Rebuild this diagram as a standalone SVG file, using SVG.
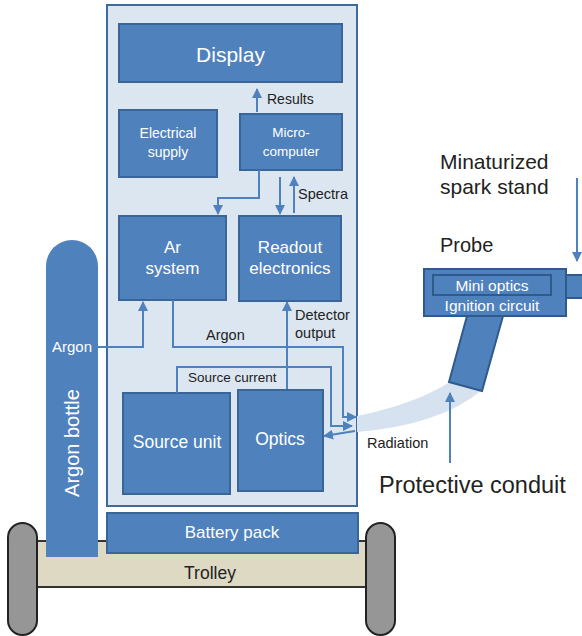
<svg xmlns="http://www.w3.org/2000/svg" width="582" height="636" viewBox="0 0 582 636">
  <style>
    .node { fill: #4f81bd; stroke: #3a6598; stroke-width: 2; }
    .cabinet { fill: #dce6f1; stroke: #3e6a9c; stroke-width: 2; }
    .wt { fill: #ffffff; font-family: "Liberation Sans", Arial, sans-serif; text-anchor: middle; }
    .dk { fill: #222222; font-family: "Liberation Sans", Arial, sans-serif; }
    .sm { font-size: 14.5px; }
    .wire { fill: none; stroke: #4f81bd; stroke-width: 2; }
    .wheel { fill: #969696; stroke: #222222; stroke-width: 2; }
  </style>
  <defs>
    <marker id="ah" viewBox="0 0 10 10" refX="9" refY="5" markerWidth="5" markerHeight="5" orient="auto-start-reverse" markerUnits="strokeWidth">
      <path d="M0,0 L10,5 L0,10 Z" fill="#4f81bd"/>
    </marker>
  </defs>

  <!-- trolley and wheels -->
  <g id="trolley">
    <rect x="37" y="541" width="331" height="46" fill="#ddd9c3" stroke="#333333" stroke-width="2"/>
    <text class="dk" x="210" y="579" font-size="17.5" text-anchor="middle">Trolley</text>
  </g>
  <g id="wheels">
    <rect class="wheel" x="8" y="523" width="29" height="112" rx="14.5"/>
    <rect class="wheel" x="366" y="523" width="29" height="112" rx="14.5"/>
  </g>

  <!-- argon bottle -->
  <g id="argon-bottle">
    <path d="M46,557 L46,266 A26,26 0 0 1 98,266 L98,557 Z" fill="#4f81bd"/>
    <text class="wt" x="72" y="352" font-size="15">Argon</text>
    <text class="wt" x="72" y="443" font-size="20" transform="rotate(-90 72 443)" dy="7">Argon bottle</text>
  </g>

  <!-- cabinet -->
  <g id="cabinet">
    <rect class="cabinet" x="107" y="5" width="250" height="501"/>
  </g>
  <g id="battery-pack">
    <rect class="node" x="107" y="513" width="251" height="40"/>
    <text class="wt" x="232" y="538" font-size="17">Battery pack</text>
  </g>

  <!-- protective conduit -->
  <g id="conduit">
    <path d="M357,416 Q415,404 450,382 L482,390 Q440,425 357,432 Z" fill="#d6e2ef"/>
  </g>

  <!-- units inside the cabinet -->
  <g id="display">
    <rect class="node" x="119" y="24" width="223" height="58"/>
    <text class="wt" x="230.5" y="62" font-size="21">Display</text>
  </g>
  <g id="electrical-supply">
    <rect class="node" x="119" y="110" width="98" height="67"/>
    <text class="wt" x="168" y="138" font-size="14">Electrical</text>
    <text class="wt" x="168" y="157" font-size="14">supply</text>
  </g>
  <g id="microcomputer">
    <rect class="node" x="240" y="114" width="102" height="56"/>
    <text class="wt" x="291" y="137" font-size="13.5">Micro-</text>
    <text class="wt" x="291" y="156" font-size="13.5">computer</text>
  </g>
  <g id="ar-system">
    <rect class="node" x="119" y="216" width="107" height="84"/>
    <text class="wt" x="172.5" y="253" font-size="17">Ar</text>
    <text class="wt" x="172.5" y="274" font-size="17">system</text>
  </g>
  <g id="readout-electronics">
    <rect class="node" x="239" y="216" width="102" height="85"/>
    <text class="wt" x="290" y="253" font-size="17">Readout</text>
    <text class="wt" x="290" y="274" font-size="17">electronics</text>
  </g>
  <g id="source-unit">
    <rect class="node" x="123" y="393" width="107" height="101"/>
    <text class="wt" x="177" y="448" font-size="17.5">Source unit</text>
  </g>
  <g id="optics">
    <rect class="node" x="238" y="390" width="85" height="101"/>
    <text class="wt" x="280" y="445" font-size="17.5">Optics</text>
  </g>

  <!-- probe -->
  <g id="probe">
    <polygon points="467,316 503,316 482,391 449,382" fill="#4f81bd" stroke="#2f5a8c" stroke-width="2"/>
    <rect x="566" y="275" width="17" height="23" fill="#4f81bd" stroke="#2f5a8c" stroke-width="2"/>
    <rect x="424" y="269" width="142" height="47" fill="#4f81bd" stroke="#2f5a8c" stroke-width="2"/>
    <rect x="433" y="275" width="118" height="20" fill="none" stroke="#2f5a8c" stroke-width="2"/>
    <text class="wt" x="492" y="290.5" font-size="15.5">Mini optics</text>
    <text class="wt" x="492" y="310.5" font-size="15.5">Ignition circuit</text>
  </g>

  <!-- connectors -->
  <g id="connectors">
    <path class="wire" d="M257,112 L257,89" marker-end="url(#ah)"/>
    <path class="wire" d="M259,170 L259,198 L218,198 L218,214" marker-end="url(#ah)"/>
    <path class="wire" d="M280,177 L280,214" marker-end="url(#ah)"/>
    <path class="wire" d="M294,213 L294,177" marker-end="url(#ah)"/>
    <path class="wire" d="M97,347 L143,347 L143,302" marker-end="url(#ah)"/>
    <path class="wire" d="M287,389 L287,302" marker-end="url(#ah)"/>
    <path class="wire" d="M173,300 L173,347 L343,347 L343,417 L356,417" marker-end="url(#ah)"/>
    <path class="wire" d="M177,393 L177,367 L331,367 L331,426 L352,426" marker-end="url(#ah)"/>
    <path class="wire" d="M355,431 L324,436" marker-end="url(#ah)"/>
    <path class="wire" d="M577,178 L577,261" marker-end="url(#ah)"/>
    <path class="wire" d="M450,463 L450,393" marker-end="url(#ah)"/>
  </g>

  <!-- connector labels -->
  <g id="labels">
    <text class="dk" x="267" y="104" font-size="14">Results</text>
    <text class="dk sm" x="298" y="199">Spectra</text>
    <text class="dk sm" x="206" y="340">Argon</text>
    <text class="dk sm" x="295" y="320">Detector</text>
    <text class="dk sm" x="295" y="338">output</text>
    <text class="dk" x="188" y="382" font-size="13.5">Source current</text>
    <text class="dk sm" x="367" y="448">Radiation</text>
    <text class="dk" x="440" y="169" font-size="21">Minaturized</text>
    <text class="dk" x="440" y="194" font-size="21">spark stand</text>
    <text class="dk" x="440" y="252" font-size="20">Probe</text>
    <text class="dk" x="379" y="493" font-size="23.5">Protective conduit</text>
  </g>
</svg>
